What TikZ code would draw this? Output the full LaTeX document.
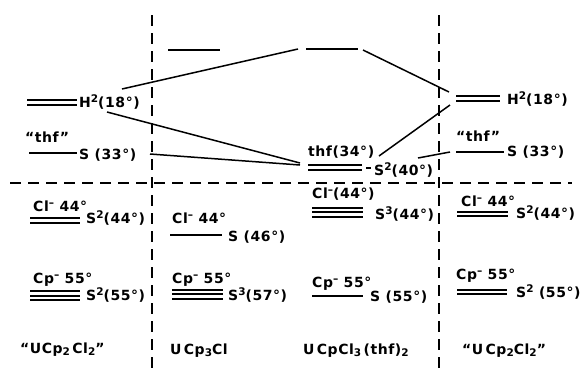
\documentclass[tikz,border=0pt]{standalone}
\usepackage{fontspec}
\setmainfont{DejaVu Sans}[LetterSpace=4]
\newcommand{\supr}[1]{\raisebox{0.62ex}{\fontsize{10.5}{10}\selectfont #1}}
\newcommand{\subr}[1]{\raisebox{-0.35ex}{\fontsize{10.5}{10}\selectfont #1}}
\begin{document}
\begin{tikzpicture}[x=1pt,y=-1pt,
  lbl/.style={anchor=base west,inner sep=0pt,font=\fontsize{14}{16}\selectfont\bfseries},
  lvl/.style={line width=2pt},
  conn/.style={line width=1.5pt},
  sep/.style={line width=1.5pt,dash pattern=on 11pt off 7pt}]
\useasboundingbox (0,0) rectangle (582,368);
% separators
\coordinate (v1t) at (152,15); \coordinate (v1b) at (152,368);
\coordinate (v2t) at (439,15); \coordinate (v2b) at (439,368);
\coordinate (hl) at (10,183); \coordinate (hr) at (572,183);
\draw[sep] (v1t) -- (v1b);
\draw[sep] (v2t) -- (v2b);
\draw[sep] (hl) -- (hr);
% ---------- column 1
\draw[lvl] (27,100) -- (77,100) (27,105) -- (77,105);
\node[lbl] (h1) at (79,107) {H\supr{2}(18°)};
\node[lbl] (thf1) at (25,142) {“thf”};
\draw[lvl] (29,153) -- (77,153);
\node[lbl] (s1) at (79,159) {S (33°)};
\node[lbl] (cl1) at (33,211) {Cl\supr{–} 44°};
\draw[lvl] (30,218) -- (80,218) (30,222.5) -- (80,222.5);
\node[lbl] (cls1) at (86,223) {S\supr{2}(44°)};
\node[lbl] (cp1) at (33,283) {Cp\supr{–} 55°};
\draw[lvl] (30,291) -- (80,291) (30,295.5) -- (80,295.5) (30,300) -- (80,300);
\node[lbl] (cps1) at (86,300) {S\supr{2}(55°)};
\node[lbl] (n1) at (20,353) {“UCp\subr{2}\,Cl\subr{2}”};
% ---------- column 2
\draw[lvl] (168,50) -- (220,50);
\node[lbl] (cl2) at (172,223) {Cl\supr{–} 44°};
\draw[lvl] (170,235) -- (222,235);
\node[lbl] (cls2) at (228,241) {S (46°)};
\node[lbl] (cp2) at (172,283) {Cp\supr{–} 55°};
\draw[lvl] (172,289.5) -- (223,289.5) (172,294) -- (223,294) (172,298.5) -- (223,298.5);
\node[lbl] (cps2) at (228,300) {S\supr{3}(57°)};
\node[lbl] (n2) at (170,354) {U\,Cp\subr{3}Cl};
% ---------- column 3
\draw[lvl] (306,49) -- (358,49);
\node[lbl] (thf3) at (308,156) {thf(34°)};
\draw[lvl] (308,165) -- (362,165) (308,169.5) -- (362,169.5);
\draw[lvl] (366,168) -- (371,168);
\node[lbl] (s3) at (374,175) {S\supr{2}(40°)};
\node[lbl] (cl3) at (312,198) {Cl\supr{–}(44°)};
\draw[lvl] (312,207.5) -- (363,207.5) (312,212) -- (363,212) (312,216.5) -- (363,216.5);
\node[lbl] (cls3) at (375,219) {S\supr{3}(44°)};
\node[lbl] (cp3) at (312,287) {Cp\supr{–} 55°};
\draw[lvl] (312,296) -- (363,296);
\node[lbl] (cps3) at (370,301) {S (55°)};
\node[lbl] (n3) at (303,354) {U\,CpCl\subr{3}\,(thf)\subr{2}};
% ---------- column 4
\draw[lvl] (456,96) -- (500,96) (456,101) -- (500,101);
\node[lbl] (h4) at (507,104) {H\supr{2}(18°)};
\node[lbl] (thf4) at (456,141) {“thf”};
\draw[lvl] (456,151.5) -- (504,151.5);
\node[lbl] (s4) at (507,156) {S (33°)};
\node[lbl] (cl4) at (461,206) {Cl\supr{–} 44°};
\draw[lvl] (457,211.5) -- (508,211.5) (457,216) -- (508,216);
\node[lbl] (cls4) at (516,218) {S\supr{2}(44°)};
\node[lbl] (cp4) at (456,279) {Cp\supr{–} 55°};
\draw[lvl] (457,289.5) -- (507,289.5) (457,294) -- (507,294);
\node[lbl] (cps4) at (516,297) {S\supr{2} (55°)};
\node[lbl] (n4) at (462,354) {“U\,Cp\subr{2}Cl\subr{2}”};
% ---------- connectors
\coordinate (a1) at (122,89);  \coordinate (b1) at (298,49);
\coordinate (a2) at (107,112); \coordinate (b2) at (300,163);
\coordinate (a3) at (150,154); \coordinate (b3) at (300,165);
\coordinate (a4) at (363,50);  \coordinate (b4) at (449,92);
\coordinate (a5) at (379,156); \coordinate (b5) at (450,105);
\coordinate (a6) at (418,158); \coordinate (b6) at (450,152);
\draw[conn] (a1) -- (b1);
\draw[conn] (a2) -- (b2);
\draw[conn] (a3) -- (b3);
\draw[conn] (a4) -- (b4);
\draw[conn] (a5) -- (b5);
\draw[conn] (a6) -- (b6);
\end{tikzpicture}
\end{document}
